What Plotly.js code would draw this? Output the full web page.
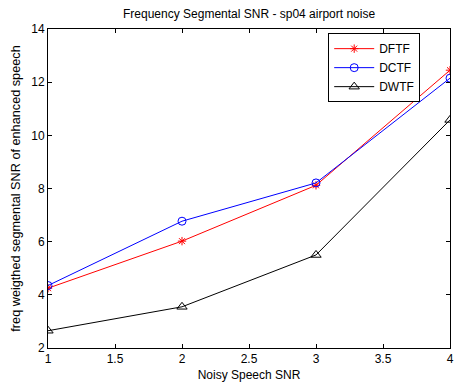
<!DOCTYPE html>
<html><head><meta charset="utf-8">
<script src="https://cdn.plot.ly/plotly-3.0.1.min.js"></script>
<style>html,body{margin:0;padding:0;background:#fff}#chart{width:457px;height:388px}</style>
</head><body><div id="chart"></div>
<script>
var xValues = [1, 2, 3, 4];
var dftf = [4.25, 6.02, 8.12, 12.45];
var dctf = [4.35, 6.77, 8.21, 12.15];
var dwtf = [2.65, 3.55, 5.5, 10.58];
var seriesNames = ['DFTF', 'DCTF', 'DWTF'];
var xTicks = [1, 1.5, 2, 2.5, 3, 3.5, 4];
var yTicks = [2, 4, 6, 8, 10, 12, 14];

var font = {family: 'Liberation Sans, Arial, sans-serif', size: 12, color: '#000'};
var traces = [
  {x: xValues, y: dftf, name: seriesNames[0], mode: 'lines+markers',
   line: {color: '#ff0000', width: 1}, marker: {symbol: 'asterisk-open', size: 7, color: '#ff0000', line: {color: '#ff0000', width: 1}}},
  {x: xValues, y: dctf, name: seriesNames[1], mode: 'lines+markers',
   line: {color: '#0000ff', width: 1}, marker: {symbol: 'circle-open', size: 8, color: '#0000ff', line: {color: '#0000ff', width: 1}}},
  {x: xValues, y: dwtf, name: seriesNames[2], mode: 'lines+markers',
   line: {color: '#000000', width: 1}, marker: {symbol: 'triangle-up-open', size: 9, color: '#000000', line: {color: '#000000', width: 1}}}
];
var layout = {
  width: 457, height: 388,
  margin: {l: 48, r: 7, t: 29, b: 40},
  paper_bgcolor: '#fff', plot_bgcolor: '#fff',
  font: font,
  showlegend: true,
  title: {text: 'Frequency Segmental SNR - sp04 airport noise', font: font, x: 0.545, xanchor: 'center', y: 0.965, yanchor: 'middle'},
  xaxis: {range: [1, 4], tickvals: xTicks, ticktext: xTicks.map(String), ticks: 'inside', ticklen: 4, tickcolor: '#000',
          showline: true, linecolor: '#000', linewidth: 1, mirror: 'ticks', showgrid: false, zeroline: false,
          title: {text: 'Noisy Speech SNR', font: font, standoff: 5}, tickfont: font},
  yaxis: {range: [2, 14], tickvals: yTicks, ticktext: yTicks.map(String), ticks: 'inside', ticklen: 4, tickcolor: '#000',
          showline: true, linecolor: '#000', linewidth: 1, mirror: 'ticks', showgrid: false, zeroline: false,
          title: {text: 'freq weigthed segmental SNR of enhanced speech', font: {family: font.family, size: 12.7, color: '#000'}, standoff: 7}, tickfont: font},
  legend: {x: 0.697, y: 0.987, xanchor: 'left', yanchor: 'top', bgcolor: '#fff', bordercolor: '#000', borderwidth: 1,
           font: font, tracegroupgap: 0, itemwidth: 40}
};
Plotly.newPlot('chart', traces, layout, {displayModeBar: false, staticPlot: true});
</script></body></html>
